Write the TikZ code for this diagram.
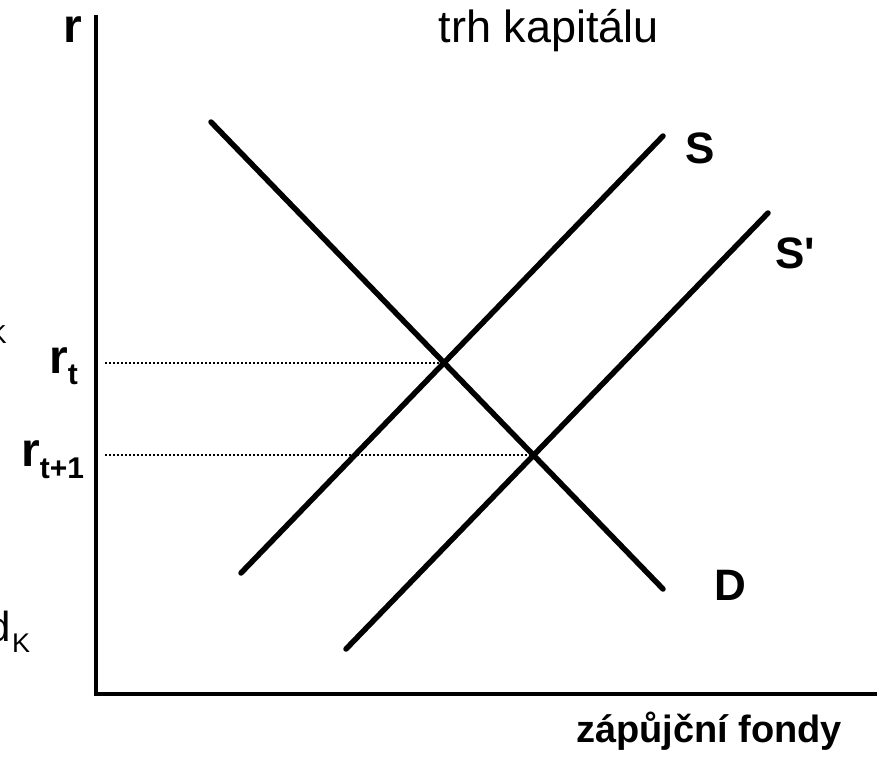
\documentclass[tikz,border=0pt]{standalone}
\usepackage{fontspec}
\setmainfont{Liberation Sans}
\tikzset{
  curve/.style={line width=5.5pt, line cap=round},
  axis/.style={line width=4.5pt},
  guide/.style={line width=1.6pt, dash pattern=on 2pt off 2pt},
  lab/.style={font=\fontsize{44}{44}\selectfont\bfseries, inner sep=0pt}
}
\begin{document}
\begin{tikzpicture}[x=1pt,y=-1pt]
\useasboundingbox (0,0) rectangle (877,763);

\coordinate (top) at (96,15);
\coordinate (O) at (96,694);
\coordinate (right) at (877,694);
\draw[axis] (top) -- (O) -- (right);

\coordinate (D1) at (211,122);
\coordinate (D2) at (663,589);
\coordinate (S1) at (241,573);
\coordinate (S2) at (663,136);
\coordinate (T1) at (346,649);
\coordinate (T2) at (768,213);
\draw[curve] (D1) -- (D2);
\draw[curve] (S1) -- (S2);
\draw[curve] (T1) -- (T2);

\coordinate (E1) at (intersection of D1--D2 and S1--S2);
\coordinate (E2) at (intersection of D1--D2 and T1--T2);
\coordinate (a1) at (105,0 |- E1);
\coordinate (a2) at (105,0 |- E2);
\draw[guide] (a1) -- (E1);
\draw[guide] (a2) -- (E2);

\node[lab, anchor=base] (r) at (73,42) {\fontsize{48}{48}\selectfont r};
\node[lab, anchor=base west] (rt) at (49,373) {\fontsize{48}{48}\selectfont r$_{\mbox{\fontsize{30}{30}\selectfont\bfseries t}}$};
\node[lab, anchor=base west] (rt1) at (21,466) {\fontsize{48}{48}\selectfont r$_{\mbox{\fontsize{30}{30}\selectfont\bfseries t+1}}$};
\node[anchor=base, inner sep=0pt, font=\fontsize{45}{45}\selectfont] (title) at (549,42) {trh kapitálu};
\node[lab, anchor=base west] (S) at (685,163) {S};
\node[lab, anchor=base west] (Sp) at (775,268) {S\textquotesingle};
\node[lab, anchor=base west] (D) at (714,600) {D};
\node[anchor=base, inner sep=0pt, font=\fontsize{38}{38}\selectfont\bfseries] (x) at (709,742) {zápůjční fondy};

\node[anchor=base east, inner sep=0pt, font=\fontsize{26}{26}\selectfont] (k) at (7,343) {K};
\node[anchor=base east, inner sep=0pt, font=\fontsize{42}{42}\selectfont] (d) at (11,641) {d};
\node[anchor=base west, inner sep=0pt, font=\fontsize{27}{27}\selectfont] (dk) at (12,652) {K};
\end{tikzpicture}
\end{document}
